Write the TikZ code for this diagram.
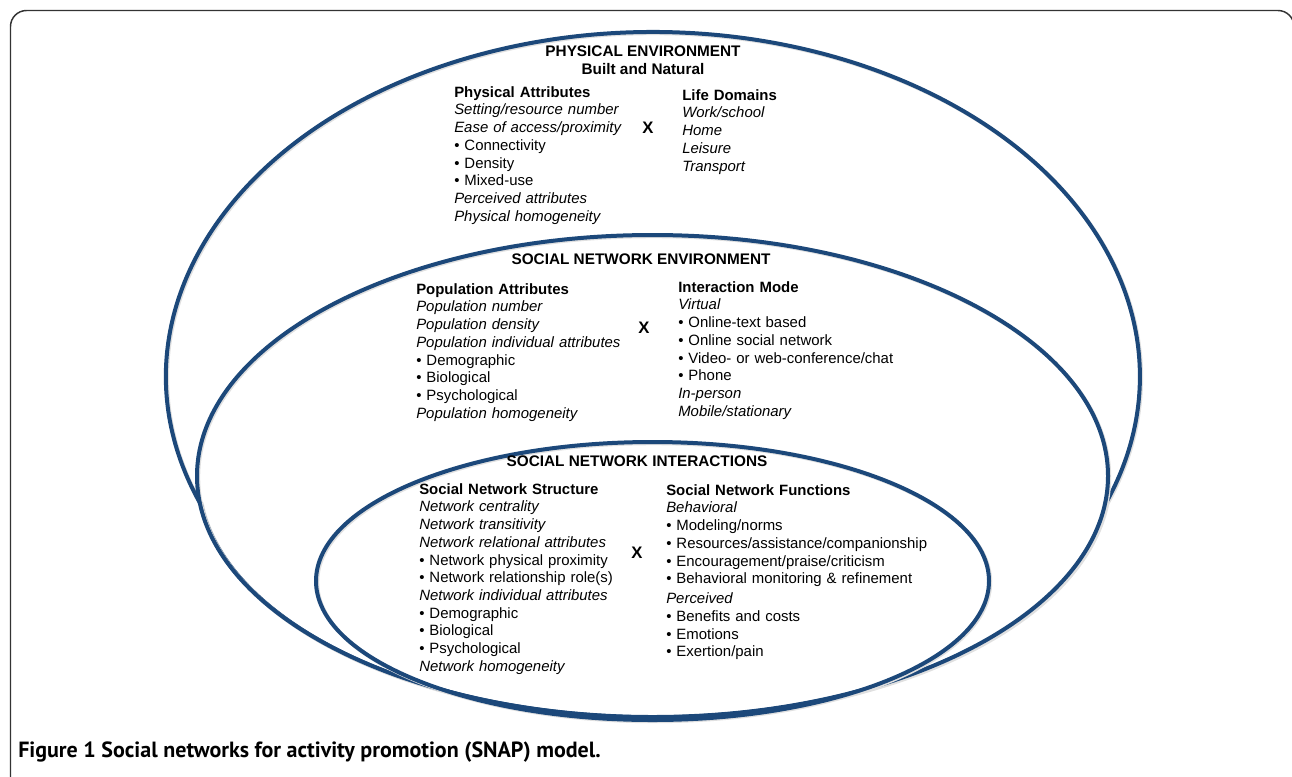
\documentclass[tikz,border=0pt]{standalone}
\usepackage{fontspec}
\setmainfont{Liberation Sans}
\newfontfamily\capfont{PT Sans}
\definecolor{ringblue}{RGB}{28,72,122}

\begin{document}
\begin{tikzpicture}[x=0.75pt,y=-0.75pt,
    zone/.style={draw=ringblue,line width=3pt,line join=round,
      preaction={draw=black!12,line width=3pt,transform canvas={shift={(0.9pt,-0.9pt)}}}},
    caps/.style={font=\bfseries\fontsize{11.5}{13.3}\selectfont,align=center,inner sep=0pt},
    listcol/.style={anchor=north west,inner sep=0pt,text width=#1,align=left,
      font=\fontsize{11.2}{13.3}\selectfont},
    cross/.style={font=\bfseries\fontsize{12.5}{14}\selectfont,inner sep=0pt}]
  \useasboundingbox (0,0) rectangle (1292,776);
  % panel frame
  \draw[line width=1.1pt,black!80,rounded corners=12]
    (10.5,790) -- (10.5,10.5) -- (1294,10.5) -- (1294,790);

  % nested rings; the outer one runs along the middle one below
  \draw[zone] (199.7,502.5)
    arc [start angle=158.55, end angle=381.5, x radius=487, y radius=344.5]
    arc [start angle=6.3, end angle=173.7, x radius=455.5, y radius=241] -- cycle;
  \draw[zone] (652.5,476) ellipse [x radius=455.5, y radius=241];
  \draw[zone] (652.5,581) ellipse [x radius=336.5, y radius=139];

  % physical environment
  \node[caps] (phys) at (643,60) {PHYSICAL ENVIRONMENT\\Built and Natural};
  \node[listcol=200pt] (physattr) at (454,86) {\textbf{Physical Attributes}\\
    \textit{Setting/resource number}\\
    \textit{Ease of access/proximity}\\
    \textbullet\ Connectivity\\
    \textbullet\ Density\\
    \textbullet\ Mixed-use\\
    \textit{Perceived attributes}\\
    \textit{Physical homogeneity}};
  \node[cross] (x1) at (648,128) {X};
  \node[listcol=120pt] (lifedom) at (682,89) {\textbf{Life Domains}\\
    \textit{Work/school}\\
    \textit{Home}\\
    \textit{Leisure}\\
    \textit{Transport}};

  % social network environment
  \node[caps] (socenv) at (641,259.5) {SOCIAL NETWORK ENVIRONMENT};
  \node[listcol=210pt] (popattr) at (416,283) {\textbf{Population Attributes}\\
    \textit{Population number}\\
    \textit{Population density}\\
    \textit{Population individual attributes}\\
    \textbullet\ Demographic\\
    \textbullet\ Biological\\
    \textbullet\ Psychological\\
    \textit{Population homogeneity}};
  \node[cross] (x2) at (644,328) {X};
  \node[listcol=210pt] (intmode) at (678,281) {\textbf{Interaction Mode}\\
    \textit{Virtual}\\
    \textbullet\ Online-text based\\
    \textbullet\ Online social network\\
    \textbullet\ Video- or web-conference/chat\\
    \textbullet\ Phone\\
    \textit{In-person}\\
    \textit{Mobile/stationary}};

  % social network interactions
  \node[caps] (socint) at (637,461.5) {SOCIAL NETWORK INTERACTIONS};
  \node[listcol=210pt] (netstruct) at (419,483) {\textbf{Social Network Structure}\\
    \textit{Network centrality}\\
    \textit{Network transitivity}\\
    \textit{Network relational attributes}\\
    \textbullet\ Network physical proximity\\
    \textbullet\ Network relationship role(s)\\
    \textit{Network individual attributes}\\
    \textbullet\ Demographic\\
    \textbullet\ Biological\\
    \textbullet\ Psychological\\
    \textit{Network homogeneity}};
  \node[cross] (x3) at (637,553) {X};
  \node[listcol=230pt] (netfunc) at (666,484) {\textbf{Social Network Functions}\\
    \textit{Behavioral}\\
    \textbullet\ Modeling/norms\\
    \textbullet\ Resources/assistance/companionship\\
    \textbullet\ Encouragement/praise/criticism\\
    \textbullet\ Behavioral monitoring \& refinement\\[1.7pt]
    \textit{Perceived}\\
    \textbullet\ Benefits and costs\\
    \textbullet\ Emotions\\
    \textbullet\ Exertion/pain};

  % caption
  \node[anchor=base west,inner sep=0pt,font=\capfont\bfseries\fontsize{16.5}{19}\selectfont]
    (caption) at (18,757) {Figure 1 Social networks for activity promotion (SNAP) model.};
\end{tikzpicture}
\end{document}
